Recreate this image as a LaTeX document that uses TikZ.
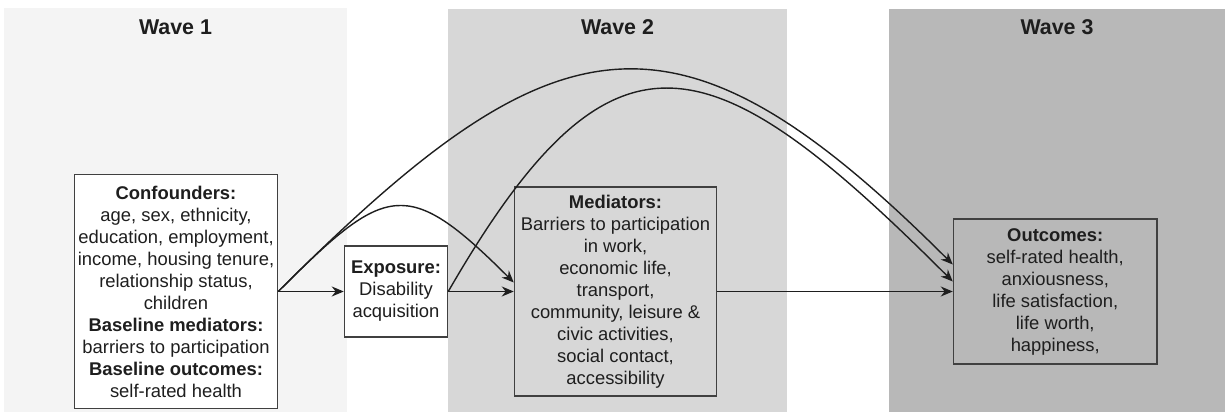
\documentclass[tikz,border=0pt]{standalone}
\usepackage{fontspec}
\setmainfont{Liberation Sans}
\usepackage{xcolor}
\usepackage{tikz}
\usetikzlibrary{arrows.meta, positioning}

\definecolor{waveA}{HTML}{F4F4F4}
\definecolor{waveB}{HTML}{D7D7D7}
\definecolor{waveC}{HTML}{B8B8B8}
\definecolor{ink}{HTML}{1E1E1E}

\begin{document}
\begin{tikzpicture}[
  x=0.5pt, y=0.5pt,
  box/.style={draw=ink!85, line width=0.75pt, align=center, inner sep=1pt,
              font=\fontsize{9.2}{11}\selectfont, text=ink},
  wave/.style={font=\fontsize{10.7}{13}\selectfont\bfseries, text=ink},
  arr/.style={->, >={Stealth[length=6pt, width=5pt]}, line width=0.7pt, ink}
]
\useasboundingbox (0,0) rectangle (1225,412);

% Wave panels
\fill[waveA] (4,0) rectangle (347,404);
\fill[waveB] (448,0) rectangle (787,403);
\fill[waveC] (889,0) rectangle (1225,403);
\node[wave] (w1) at (175.5,385) {Wave 1};
\node[wave] (w2) at (617.5,385) {Wave 2};
\node[wave] (w3) at (1057,385) {Wave 3};

% Confounders (wave 1)
\node[box, fill=white, minimum width=101.5pt, minimum height=117pt]
    (conf) at (176,120.5)
    {\textbf{Confounders:}\\age, sex, ethnicity,\\education, employment,\\
     income, housing tenure,\\relationship status,\\children\\
     \textbf{Baseline mediators:}\\barriers to participation\\
     \textbf{Baseline outcomes:}\\self-rated health};

% Exposure
\node[box, fill=white, minimum width=51.5pt, minimum height=45.5pt,
      right=32.75pt of conf] (expo)
    {\textbf{Exposure:}\\Disability\\acquisition};

% Mediators (wave 2)
\node[box, fill=waveB, minimum width=101pt, minimum height=104.5pt,
      right=32.75pt of expo] (med)
    {\textbf{Mediators:}\\Barriers to participation\\in work,\\economic life,\\
     transport,\\community, leisure \&\\civic activities,\\social contact,\\
     accessibility};

% Outcomes (wave 3)
\node[box, fill=waveC, minimum width=101.75pt, minimum height=72.5pt,
      right=117.75pt of med] (out)
    {\textbf{Outcomes:}\\self-rated health,\\anxiousness,\\life satisfaction,\\
     life worth,\\happiness,};

% Straight paths
\draw[arr] (conf.east) -- (expo.west);
\draw[arr] (expo.east) -- (med.west);
\draw[arr] (med.east) -- (out.west);

% Curved paths
\draw[arr] (conf.east) to[out=45, in=135, distance=76pt]
    ([yshift=4.5pt]med.west);
\draw[arr] (conf.east) to[out=45, in=135, distance=196pt]
    ([yshift=13.5pt]out.west);
\draw[arr] (expo.east) to[out=60, in=135, out distance=164pt, in distance=172pt]
    ([yshift=5pt]out.west);
\end{tikzpicture}
\end{document}
